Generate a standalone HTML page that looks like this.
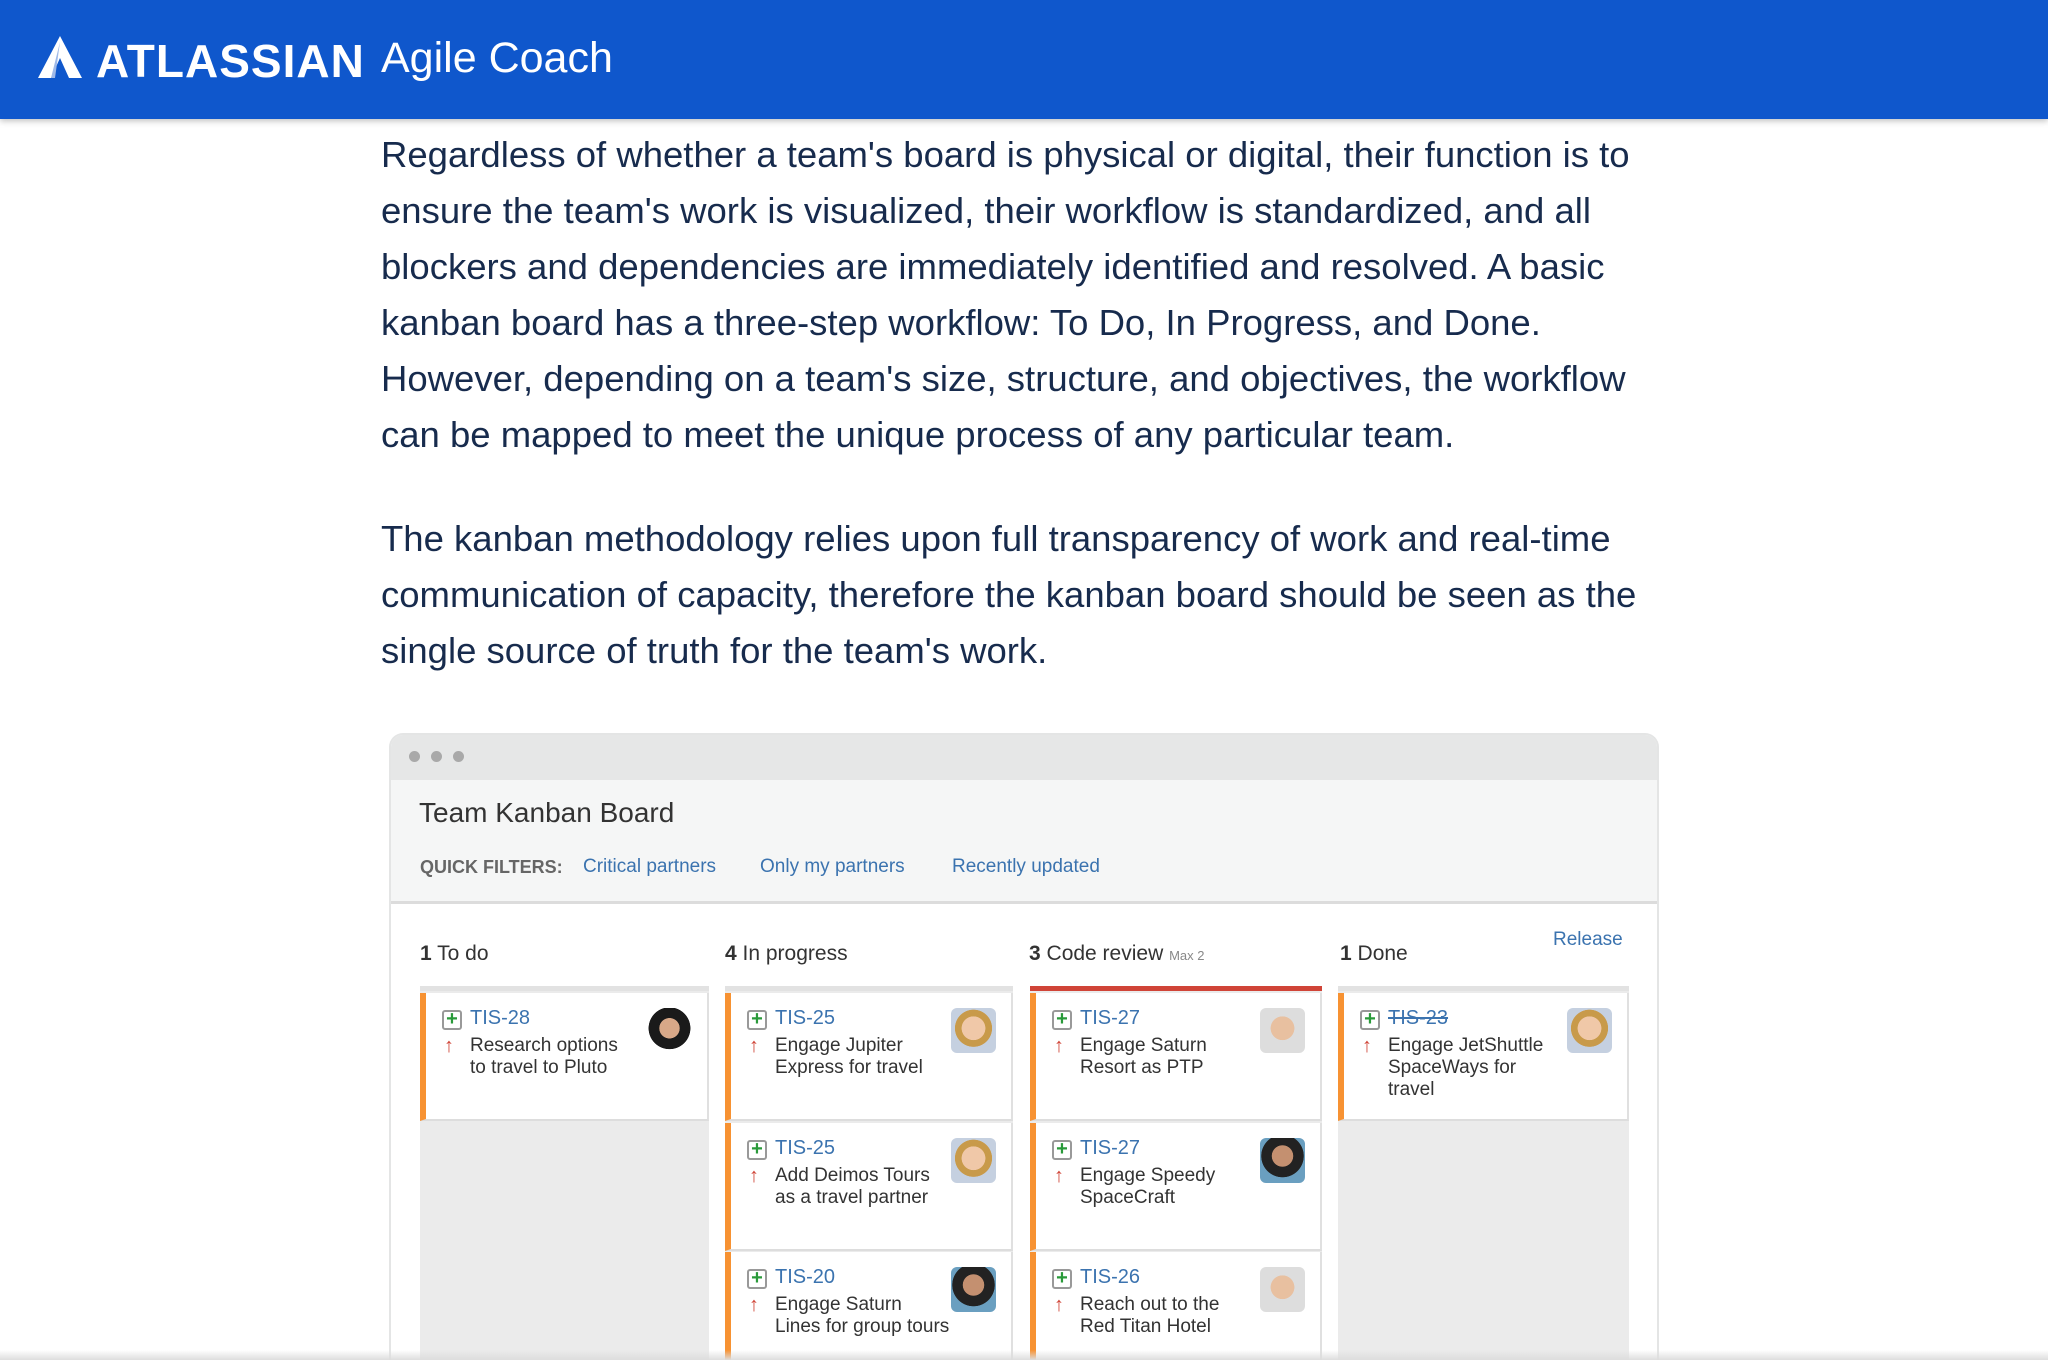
<!DOCTYPE html>
<html><head><meta charset="utf-8">
<style>
*{margin:0;padding:0;box-sizing:border-box}
html{width:2048px;height:1360px;overflow:hidden}
body{width:2048px;height:1360px;overflow:hidden;background:#fff;font-family:"Liberation Sans",sans-serif;position:relative}
.hdr{position:absolute;left:0;top:0;width:2048px;height:119px;background:#0f57cc;box-shadow:0 2px 6px rgba(0,0,0,.25);z-index:2}
.logo{position:absolute;left:96px;top:34px;color:#fff;font-weight:bold;font-size:46px;letter-spacing:1px}
.agile{position:absolute;left:381px;top:34px;color:#fff;font-size:43px}
.p{position:absolute;left:381px;font-size:36.5px;color:#172b4d;line-height:55.9px;white-space:nowrap}
.win{position:absolute;left:389px;top:733px;width:1270px;height:627px;border:2px solid #e4e5e5;border-bottom:none;border-radius:14px 14px 0 0;background:#fff;overflow:hidden}
.tb{position:absolute;left:0;top:0;width:100%;height:45px;background:#e6e7e7}
.dot{position:absolute;top:16px;width:11px;height:11px;border-radius:50%;background:#a9a9a9}
.hd{position:absolute;left:0;top:45px;width:100%;height:124px;background:#f5f6f6;border-bottom:3px solid #dcdcdc}
.abs{position:absolute;white-space:nowrap}
.lnk{color:#3b73af}
.col{position:absolute;top:986px;height:374px;background:#ebebeb;border-top:5px solid #e2e2e2;overflow:hidden}
.card{position:absolute;left:0;width:100%;height:128px;background:#fff;border-left:6px solid #f79232;border-right:2px solid #e0e0e0;border-bottom:2px solid #ddd}
.ic{position:absolute;left:16px;top:17px;width:20px;height:20px;border:2px solid #999;border-radius:3px;color:#2a9a3a;font-size:20px;line-height:15px;text-align:center;font-weight:bold}
.id{position:absolute;left:44px;top:14px;font-size:20px;color:#3b73af}
.ar{position:absolute;left:18px;top:42px;color:#d04437;font-size:20px;font-weight:bold}
.tt{position:absolute;left:44px;top:42px;font-size:19px;color:#333;line-height:22px}
.av{position:absolute;right:15px;top:15px;width:45px;height:45px;border-radius:6px}
.f{background:radial-gradient(circle at 50% 45%,#f0c8a8 0 35%,#c89a4a 36% 55%,#c5d0e0 56%)}
.m{background:radial-gradient(circle at 50% 45%,#e8c0a0 0 35%,#ddd 36%)}
.d{background:radial-gradient(circle at 50% 40%,#c49070 0 30%,#222 31% 60%,#6a9fc0 61%)}
.a{background:radial-gradient(circle at 50% 45%,#d8a888 0 30%,#1a1a1a 31% 62%,#fff 63%)}
</style></head><body>
<div class="hdr">
<svg style="position:absolute;left:38px;top:36px" width="44" height="42" viewBox="0 0 44 42"><path d="M22 0 L44 42 L31 42 L22 22 L13 42 L0 42 Z" fill="#fff"/><path d="M22 6 L17 42 L13 42 Z" fill="#9fb9e8"/></svg>
<div class="logo">ATLASSIAN</div><div class="agile">Agile Coach</div>
</div>
<div class="p" style="top:127px">Regardless of whether a team's board is physical or digital, their function is to<br>ensure the team's work is visualized, their workflow is standardized, and all<br>blockers and dependencies are immediately identified and resolved. A basic<br>kanban board has a three-step workflow: To Do, In Progress, and Done.<br>However, depending on a team's size, structure, and objectives, the workflow<br>can be mapped to meet the unique process of any particular team.</div>
<div class="p" style="top:511px">The kanban methodology relies upon full transparency of work and real-time<br>communication of capacity, therefore the kanban board should be seen as the<br>single source of truth for the team's work.</div>
<div class="win">
<div class="tb"><div class="dot" style="left:18px"></div><div class="dot" style="left:40px"></div><div class="dot" style="left:62px"></div></div>
<div class="hd"></div>
<div class="abs" style="left:28px;top:62px;font-size:28px;color:#333">Team Kanban Board</div>
<div class="abs" style="left:29px;top:122px;font-size:18px;color:#666;font-weight:bold">QUICK FILTERS:</div>
<div class="abs lnk" style="left:192px;top:121px;font-size:19px">Critical partners</div>
<div class="abs lnk" style="left:369px;top:121px;font-size:19px">Only my partners</div>
<div class="abs lnk" style="left:561px;top:121px;font-size:19px">Recently updated</div>
<div class="abs" style="left:29px;top:207px;font-size:21px;color:#333"><b>1</b> To do</div>
<div class="abs" style="left:334px;top:207px;font-size:21px;color:#333"><b>4</b> In progress</div>
<div class="abs" style="left:638px;top:207px;font-size:21px;color:#333"><b>3</b> Code review <span style="font-size:13px;color:#888">Max 2</span></div>
<div class="abs" style="left:949px;top:207px;font-size:21px;color:#333"><b>1</b> Done</div>
<div class="abs lnk" style="left:1162px;top:194px;font-size:19px">Release</div>
</div>
<div class="col" style="left:420px;width:289px">
<div class="card" style="top:2px"><div class="ic">+</div><div class="id">TIS-28</div><div class="ar">↑</div><div class="tt">Research options<br>to travel to Pluto</div><div class="av a"></div></div>
</div>
<div class="col" style="left:725px;width:288px">
<div class="card" style="top:2px"><div class="ic">+</div><div class="id">TIS-25</div><div class="ar">↑</div><div class="tt">Engage Jupiter<br>Express for travel</div><div class="av f"></div></div>
<div class="card" style="top:132px"><div class="ic">+</div><div class="id">TIS-25</div><div class="ar">↑</div><div class="tt">Add Deimos Tours<br>as a travel partner</div><div class="av f"></div></div>
<div class="card" style="top:261px"><div class="ic">+</div><div class="id">TIS-20</div><div class="ar">↑</div><div class="tt">Engage Saturn<br>Lines for group tours</div><div class="av d"></div></div>
</div>
<div class="col" style="left:1030px;width:292px;border-top-color:#d04437">
<div class="card" style="top:2px"><div class="ic">+</div><div class="id">TIS-27</div><div class="ar">↑</div><div class="tt">Engage Saturn<br>Resort as PTP</div><div class="av m"></div></div>
<div class="card" style="top:132px"><div class="ic">+</div><div class="id">TIS-27</div><div class="ar">↑</div><div class="tt">Engage Speedy<br>SpaceCraft</div><div class="av d"></div></div>
<div class="card" style="top:261px"><div class="ic">+</div><div class="id">TIS-26</div><div class="ar">↑</div><div class="tt">Reach out to the<br>Red Titan Hotel</div><div class="av m"></div></div>
</div>
<div class="col" style="left:1338px;width:291px">
<div class="card" style="top:2px"><div class="ic">+</div><div class="id" style="text-decoration:line-through">TIS-23</div><div class="ar">↑</div><div class="tt">Engage JetShuttle<br>SpaceWays for<br>travel</div><div class="av f"></div></div>
</div>
<div style="position:absolute;left:0;top:1350px;width:2048px;height:10px;background:linear-gradient(rgba(255,255,255,0),#ddd);z-index:3"></div>
</body></html>
